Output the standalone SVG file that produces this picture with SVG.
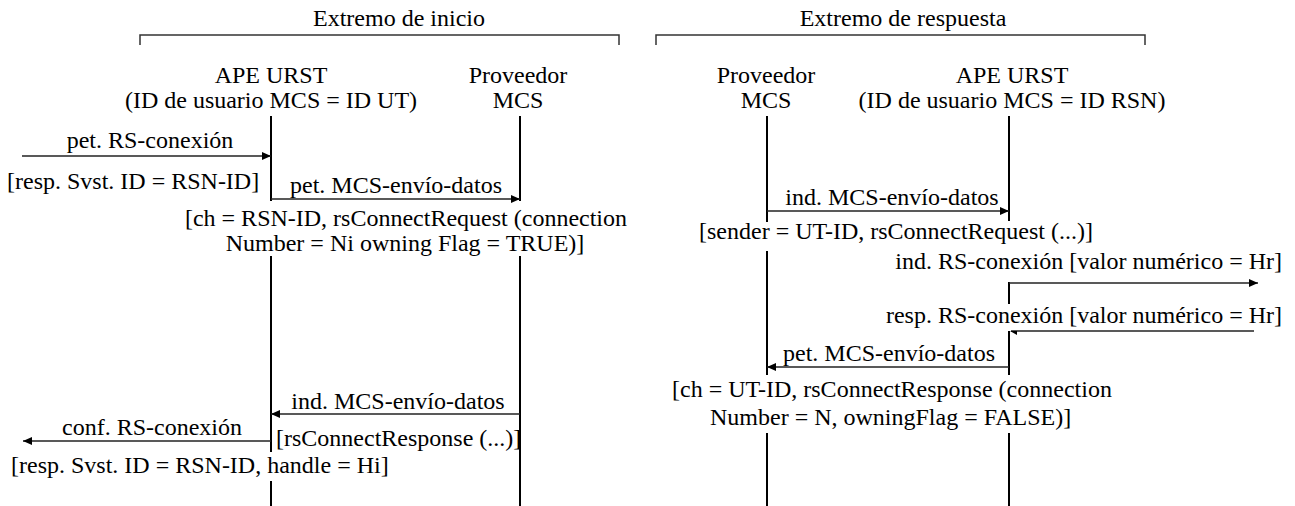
<svg xmlns="http://www.w3.org/2000/svg" width="1295" height="506" viewBox="0 0 1295 506">
  <style>
    text { font-family: "Liberation Serif", "Times New Roman", serif; font-size: 24px; fill: #000; }
    .c { text-anchor: middle; }
    .e { text-anchor: end; }
    .life { stroke: #000; stroke-width: 2; fill: none; }
    .msg { stroke: #222; stroke-width: 1.5; fill: none; }
    .brk { stroke: #333; stroke-width: 1.5; fill: none; }
  </style>
  <defs>
    <marker id="arrow" viewBox="0 0 9 8" refX="9" refY="4" markerWidth="9" markerHeight="8" markerUnits="userSpaceOnUse" orient="auto">
      <path d="M0,0 L9,4 L0,8 z" fill="#000"/>
    </marker>
  </defs>

  <!-- side brackets -->
  <g id="side-inicio">
    <text class="c" x="399" y="26">Extremo de inicio</text>
    <path class="brk" d="M140,45 V35 H619 V45"/>
  </g>
  <g id="side-respuesta">
    <text class="c" x="903" y="26">Extremo de respuesta</text>
    <path class="brk" d="M656,45 V35 H1145 V45"/>
  </g>

  <!-- participants with their lifelines -->
  <g id="ape-urst-ut">
    <text class="c" x="271" y="83">APE URST</text>
    <text class="c" x="271" y="108">(ID de usuario MCS = ID UT)</text>
    <path class="life" d="M271,116 V201 M271,256 V452 M271,481 V506"/>
  </g>
  <g id="proveedor-mcs-inicio">
    <text class="c" x="518" y="83">Proveedor</text>
    <text class="c" x="518" y="108">MCS</text>
    <path class="life" d="M520,116 V201 M520,256 V506"/>
  </g>
  <g id="proveedor-mcs-respuesta">
    <text class="c" x="766" y="83">Proveedor</text>
    <text class="c" x="766" y="108">MCS</text>
    <path class="life" d="M767,116 V222 M767,251 V375 M767,433 V506"/>
  </g>
  <g id="ape-urst-rsn">
    <text class="c" x="1012" y="83">APE URST</text>
    <text class="c" x="1012" y="108">(ID de usuario MCS = ID RSN)</text>
    <path class="life" d="M1009,116 V221 M1009,282 V304 M1009,331 V375 M1009,433 V506"/>
  </g>

  <!-- messages -->
  <g id="connectors">
    <line class="msg" x1="22" y1="156" x2="271" y2="156" marker-end="url(#arrow)"/>
    <line class="msg" x1="271" y1="199" x2="520" y2="199" marker-end="url(#arrow)"/>
    <line class="msg" x1="767" y1="211" x2="1009" y2="211" marker-end="url(#arrow)"/>
    <line class="msg" x1="1009" y1="283" x2="1258" y2="283" marker-end="url(#arrow)"/>
    <line class="msg" x1="1254" y1="331" x2="1011" y2="331"/>
    <path d="M1010,331 L1017,331 L1017,335 z" fill="#000"/>
    <line class="msg" x1="1009" y1="367" x2="767" y2="367" marker-end="url(#arrow)"/>
    <line class="msg" x1="520" y1="414" x2="271" y2="414" marker-end="url(#arrow)"/>
    <line class="msg" x1="271" y1="441" x2="23" y2="441" marker-end="url(#arrow)"/>
  </g>

  <g id="labels">
    <text class="c" x="150" y="148">pet. RS-conexión</text>
    <text x="7" y="189">[resp. Svst. ID = RSN-ID]</text>
    <text class="c" x="396" y="193">pet. MCS-envío-datos</text>
    <text class="c" x="406" y="226">[ch = RSN-ID, rsConnectRequest (connection</text>
    <text class="c" x="405" y="251">Number = Ni owning Flag = TRUE)]</text>

    <text class="c" x="892" y="205">ind. MCS-envío-datos</text>
    <text x="699" y="239">[sender = UT-ID, rsConnectRequest (...)]</text>
    <text class="e" x="1282" y="269">ind. RS-conexión [valor numérico = Hr]</text>
    <text class="e" x="1282" y="323">resp. RS-conexión [valor numérico = Hr]</text>
    <text class="c" x="889" y="361">pet. MCS-envío-datos</text>
    <text x="672" y="397">[ch = UT-ID, rsConnectResponse (connection</text>
    <text x="710" y="425">Number = N, owningFlag = FALSE)]</text>

    <text class="c" x="398" y="409">ind. MCS-envío-datos</text>
    <text class="c" x="152" y="435">conf. RS-conexión</text>
    <text x="276" y="446">[rsConnectResponse (...)]</text>
    <text x="11" y="473">[resp. Svst. ID = RSN-ID, handle = Hi]</text>
  </g>
</svg>
